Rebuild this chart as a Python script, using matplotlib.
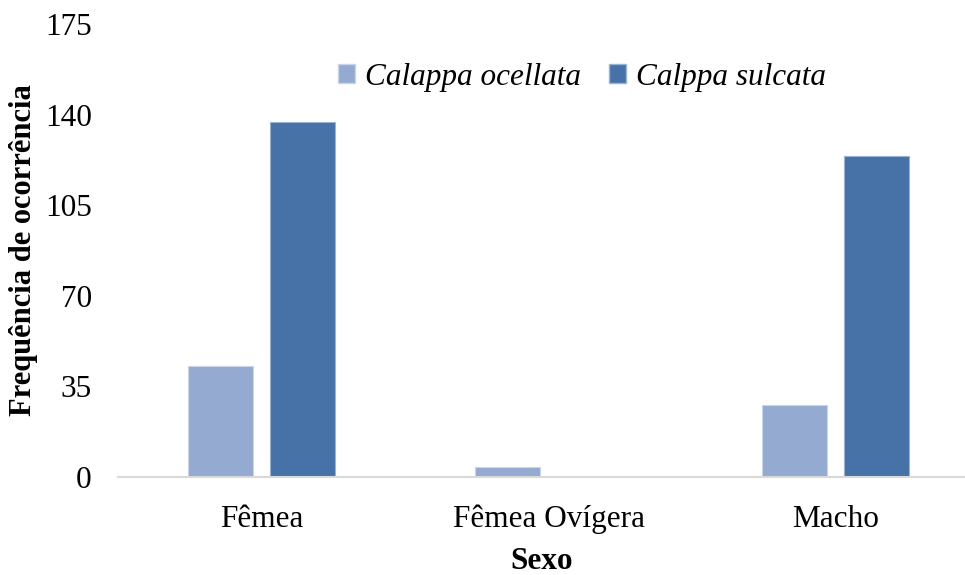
import matplotlib
matplotlib.use("Agg")
import matplotlib.pyplot as plt
import numpy as np
from matplotlib.patches import Patch

categorias = ["Fêmea", "Fêmea Ovígera", "Macho"]
ocellata = [43, 4, 28]
sulcata = [137, 0, 124]
yticks = [0, 35, 70, 105, 140, 175]

plt.rcParams["font.family"] = ["Liberation Serif", "DejaVu Serif"]

fig = plt.figure(figsize=(9.65, 5.75), dpi=100)
ax = fig.add_axes([0.1223, 0.1704, 0.8777, 0.7879])

x = np.arange(len(categorias))
w = 0.226
off = 0.1425
ax.bar(x - off, ocellata, w, color="#94AAD0", edgecolor="#C8D4E8", linewidth=0.8)
ax.bar(x + off, sulcata, w, color="#4672A8", edgecolor="#9AB2D4", linewidth=0.8)

ax.set_xlim(-0.5, (965 - 118) / 287 - 0.5)
ax.set_ylim(0, 175)
ax.set_yticks(yticks)
ax.set_xticks(x)
ax.set_xticklabels(categorias)
ax.tick_params(axis="both", length=0, labelsize=22.5)
ax.tick_params(axis="y", pad=19)
ax.tick_params(axis="x", pad=20)

for s in ["top", "right", "left"]:
    ax.spines[s].set_visible(False)
ax.spines["bottom"].set_color("#D9D9D9")
ax.spines["bottom"].set_linewidth(1.5)

ax.set_xlabel("Sexo", fontsize=22.5, fontweight="bold", labelpad=9)
ax.set_ylabel("Frequência de ocorrência", fontsize=22, fontweight="bold")
ax.yaxis.set_label_coords(-0.094, 0.5)

handles = [Patch(facecolor="#94AAD0", edgecolor="#C8D4E8"),
           Patch(facecolor="#4672A8", edgecolor="#9AB2D4")]
fig.legend(handles, ["Calappa ocellata", "Calppa sulcata"], loc="center",
           bbox_to_anchor=(0.603, 0.866), ncol=2, frameon=False,
           prop={"size": 22.5, "style": "italic"}, handlelength=0.55, handleheight=0.55,
           handletextpad=0.3, columnspacing=0.9)

fig.savefig("out.png", dpi=100)
